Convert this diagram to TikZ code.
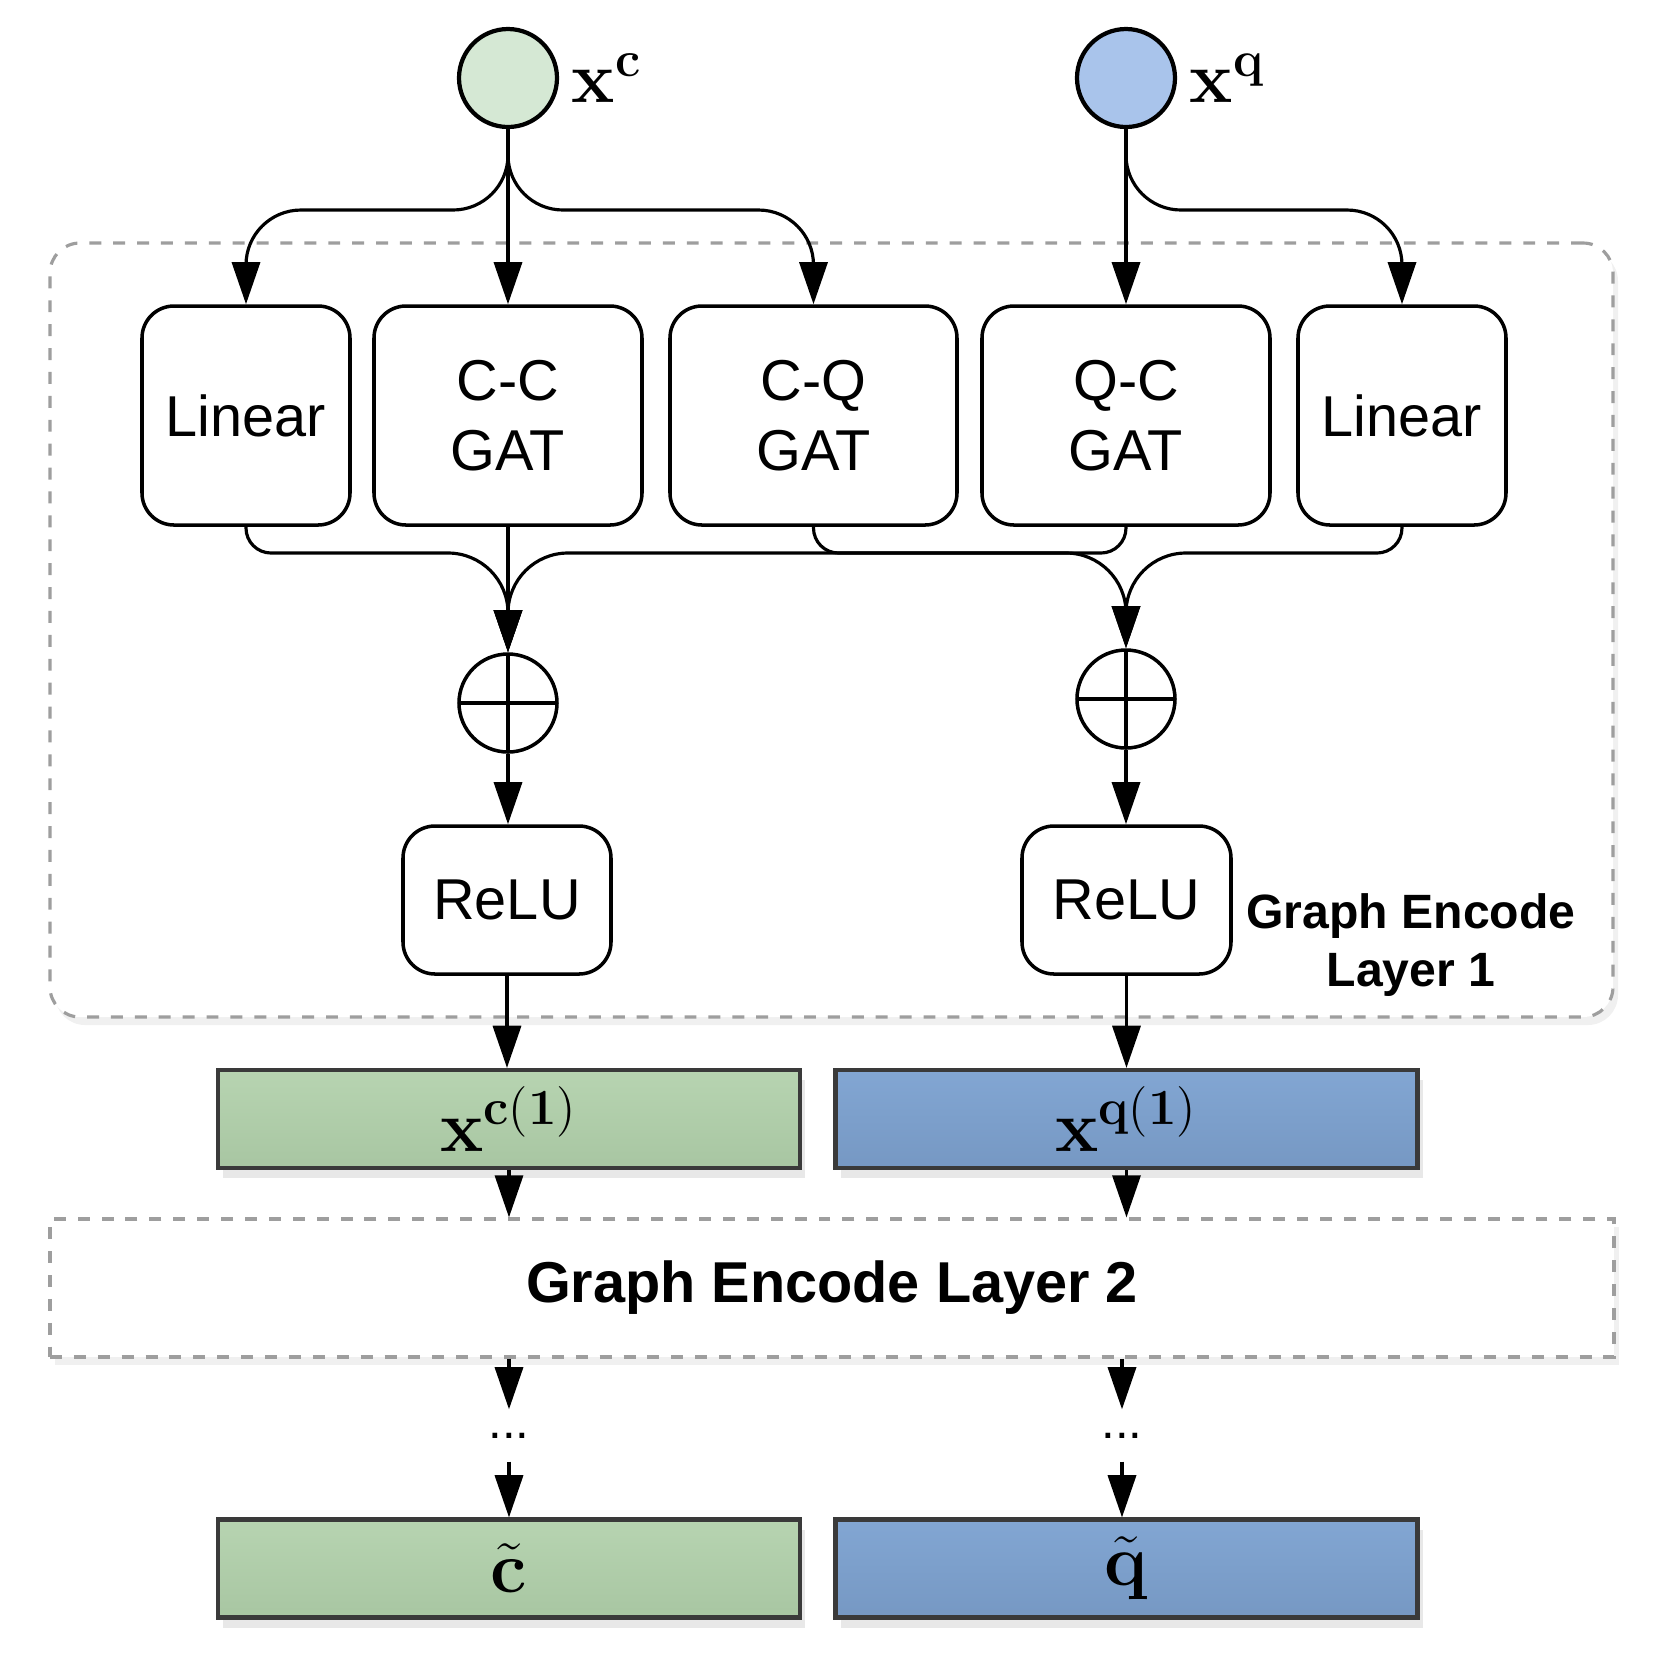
\documentclass[tikz,border=0pt]{standalone}
\usepackage[no-math]{fontspec}
\setmainfont{Liberation Sans}
\usepackage{amsmath}
\usetikzlibrary{arrows.meta, positioning, shadows, calc}

\definecolor{ctxlight}{HTML}{D5E8D4}
\definecolor{qstlight}{HTML}{A9C4EB}
\definecolor{ctxtop}{HTML}{B7D4B1}
\definecolor{ctxfeat}{HTML}{A8C6A2}
\definecolor{qsttop}{HTML}{82A6D3}
\definecolor{qstfeat}{HTML}{7698C3}
\definecolor{featline}{HTML}{3A3A3A}
\definecolor{dashgray}{HTML}{9E9E9E}

\tikzset{
  flow/.style={-{Triangle[length=12pt,width=8pt]}, line width=0.9pt},
  inp/.style={circle, draw, line width=1.2pt, minimum size=0.98cm, inner sep=0pt},
  blk/.style={draw, rounded corners=0.32cm, line width=1pt, align=center, inner sep=0pt,
    font=\fontsize{16.4}{20}\selectfont},
  sumop/.style={circle, draw, line width=1pt, minimum size=0.98cm, inner sep=0pt,
    path picture={\draw[line width=1pt] (path picture bounding box.north) -- (path picture bounding box.south)
      (path picture bounding box.west) -- (path picture bounding box.east);}},
  featbox/.style={draw=featline, line width=1.2pt, minimum width=5.82cm, minimum height=0.98cm,
    inner sep=0pt, font=\huge,
    drop shadow={shadow xshift=0.05cm, shadow yshift=-0.1cm, opacity=0.18}},
  encbox/.style={draw=dashgray, line width=0.9pt, dash pattern=on 3.4pt off 3.4pt, fill=white,
    drop shadow={shadow xshift=0.05cm, shadow yshift=-0.08cm, opacity=0.12}},
}

\begin{document}
\begin{tikzpicture}

\useasboundingbox (0,0) rectangle (16.62,-16.73);

\coordinate (topbus) at (0,-2.10);
\coordinate (botbus) at (0,-5.53);

% inputs
\node[inp, fill=ctxlight] (xc) at (5.08,-0.78) {};
\node[right=0.02cm of xc, font=\huge, inner sep=0.1cm] (xclab) {$\mathbf{x}^{\mathbf{c}}$};
\node[inp, fill=qstlight] (xq) at (11.26,-0.78) {};
\node[right=0.02cm of xq, font=\huge, inner sep=0.1cm] (xqlab) {$\mathbf{x}^{\mathbf{q}}$};

% encode layer 1
\node[encbox, rounded corners=0.3cm, minimum width=15.63cm, minimum height=7.74cm] (enc1) at (8.315,-6.30) {};

\node[blk, minimum width=2.08cm, minimum height=2.19cm] (linc) at (2.46,-4.155) {Linear};
\node[blk, minimum width=2.68cm, minimum height=2.19cm] (ccgat) at (5.08,-4.155) {C-C\\GAT};
\node[blk, minimum width=2.87cm, minimum height=2.19cm] (cqgat) at (8.135,-4.155) {C-Q\\GAT};
\node[blk, minimum width=2.88cm, minimum height=2.19cm] (qcgat) at (11.26,-4.155) {Q-C\\GAT};
\node[blk, minimum width=2.08cm, minimum height=2.19cm] (linq) at (14.02,-4.155) {Linear};

\node[sumop] (addc) at (5.08,-7.03) {};
\node[sumop] (addq) at (11.26,-6.99) {};

\node[blk, minimum width=2.08cm, minimum height=1.48cm] (reluc) at (5.07,-9.00) {ReLU};
\node[blk, minimum width=2.09cm, minimum height=1.48cm] (reluq) at (11.265,-9.00) {ReLU};

\node[font=\bfseries\fontsize{13.7}{16.4}\selectfont, align=center] (lay1) at (14.11,-9.45) {Graph Encode\\Layer 1};

% features
\node[featbox, top color=ctxtop, bottom color=ctxfeat] (featc) at (5.09,-11.19) {$\mathbf{x}^{\mathbf{c(1)}}$};
\node[featbox, top color=qsttop, bottom color=qstfeat] (featq) at (11.265,-11.19) {$\mathbf{x}^{\mathbf{q(1)}}$};

% encode layer 2
\node[encbox, minimum width=15.64cm, minimum height=1.38cm,
  font=\bfseries\fontsize{16.4}{20}\selectfont] (enc2) at (8.32,-12.88) {Graph Encode Layer 2};

\node[font=\fontsize{14}{16}\selectfont, minimum height=0.51cm, inner sep=0pt] (dotsc) at (5.09,-14.355) {...};
\node[font=\fontsize{14}{16}\selectfont, minimum height=0.51cm, inner sep=0pt] (dotsq) at (11.22,-14.355) {...};

\node[featbox, top color=ctxtop, bottom color=ctxfeat] (outc) at (5.09,-15.685) {$\tilde{\mathbf{c}}$};
\node[featbox, top color=qsttop, bottom color=qstfeat] (outq) at (11.265,-15.685) {$\tilde{\mathbf{q}}$};

% inputs to layer 1
\draw[flow] (xc.south) -- (ccgat.north);
\draw[flow, rounded corners=0.55cm] (xc.south) -- (xc.south |- topbus) -- (linc.north |- topbus) -- (linc.north);
\draw[flow, rounded corners=0.55cm] (xc.south) -- (xc.south |- topbus) -- (cqgat.north |- topbus) -- (cqgat.north);
\draw[flow] (xq.south) -- (qcgat.north);
\draw[flow, rounded corners=0.55cm] (xq.south) -- (xq.south |- topbus) -- (linq.north |- topbus) -- (linq.north);

% merge
\draw[flow] (ccgat.south) -- (addc.north);
\draw[flow] (linc.south) [rounded corners=0.25cm] -- (linc.south |- botbus) [rounded corners=0.6cm] -- (addc.north |- botbus) -- (addc.north);
\draw[flow] (qcgat.south) [rounded corners=0.25cm] -- (qcgat.south |- botbus) [rounded corners=0.6cm] -- (addc.north |- botbus) -- (addc.north);
\draw[flow] (cqgat.south) [rounded corners=0.25cm] -- (cqgat.south |- botbus) [rounded corners=0.6cm] -- (addq.north |- botbus) -- (addq.north);
\draw[flow] (linq.south) [rounded corners=0.25cm] -- (linq.south |- botbus) [rounded corners=0.6cm] -- (addq.north |- botbus) -- (addq.north);

\draw[flow] (addc.south) -- (addc.south |- reluc.north);
\draw[flow] (addq.south) -- (addq.south |- reluq.north);
\draw[flow] (reluc.south) -- (reluc.south |- featc.north);
\draw[flow] (reluq.south) -- (reluq.south |- featq.north);

% layer 2 and output
\draw[flow] (featc.south) -- (featc.south |- enc2.north);
\draw[flow] (featq.south) -- (featq.south |- enc2.north);
\draw[flow] (dotsc.north |- enc2.south) -- (dotsc.north);
\draw[flow] (dotsq.north |- enc2.south) -- (dotsq.north);
\draw[flow] (dotsc.south) -- (dotsc.south |- outc.north);
\draw[flow] (dotsq.south) -- (dotsq.south |- outq.north);

\end{tikzpicture}
\end{document}
